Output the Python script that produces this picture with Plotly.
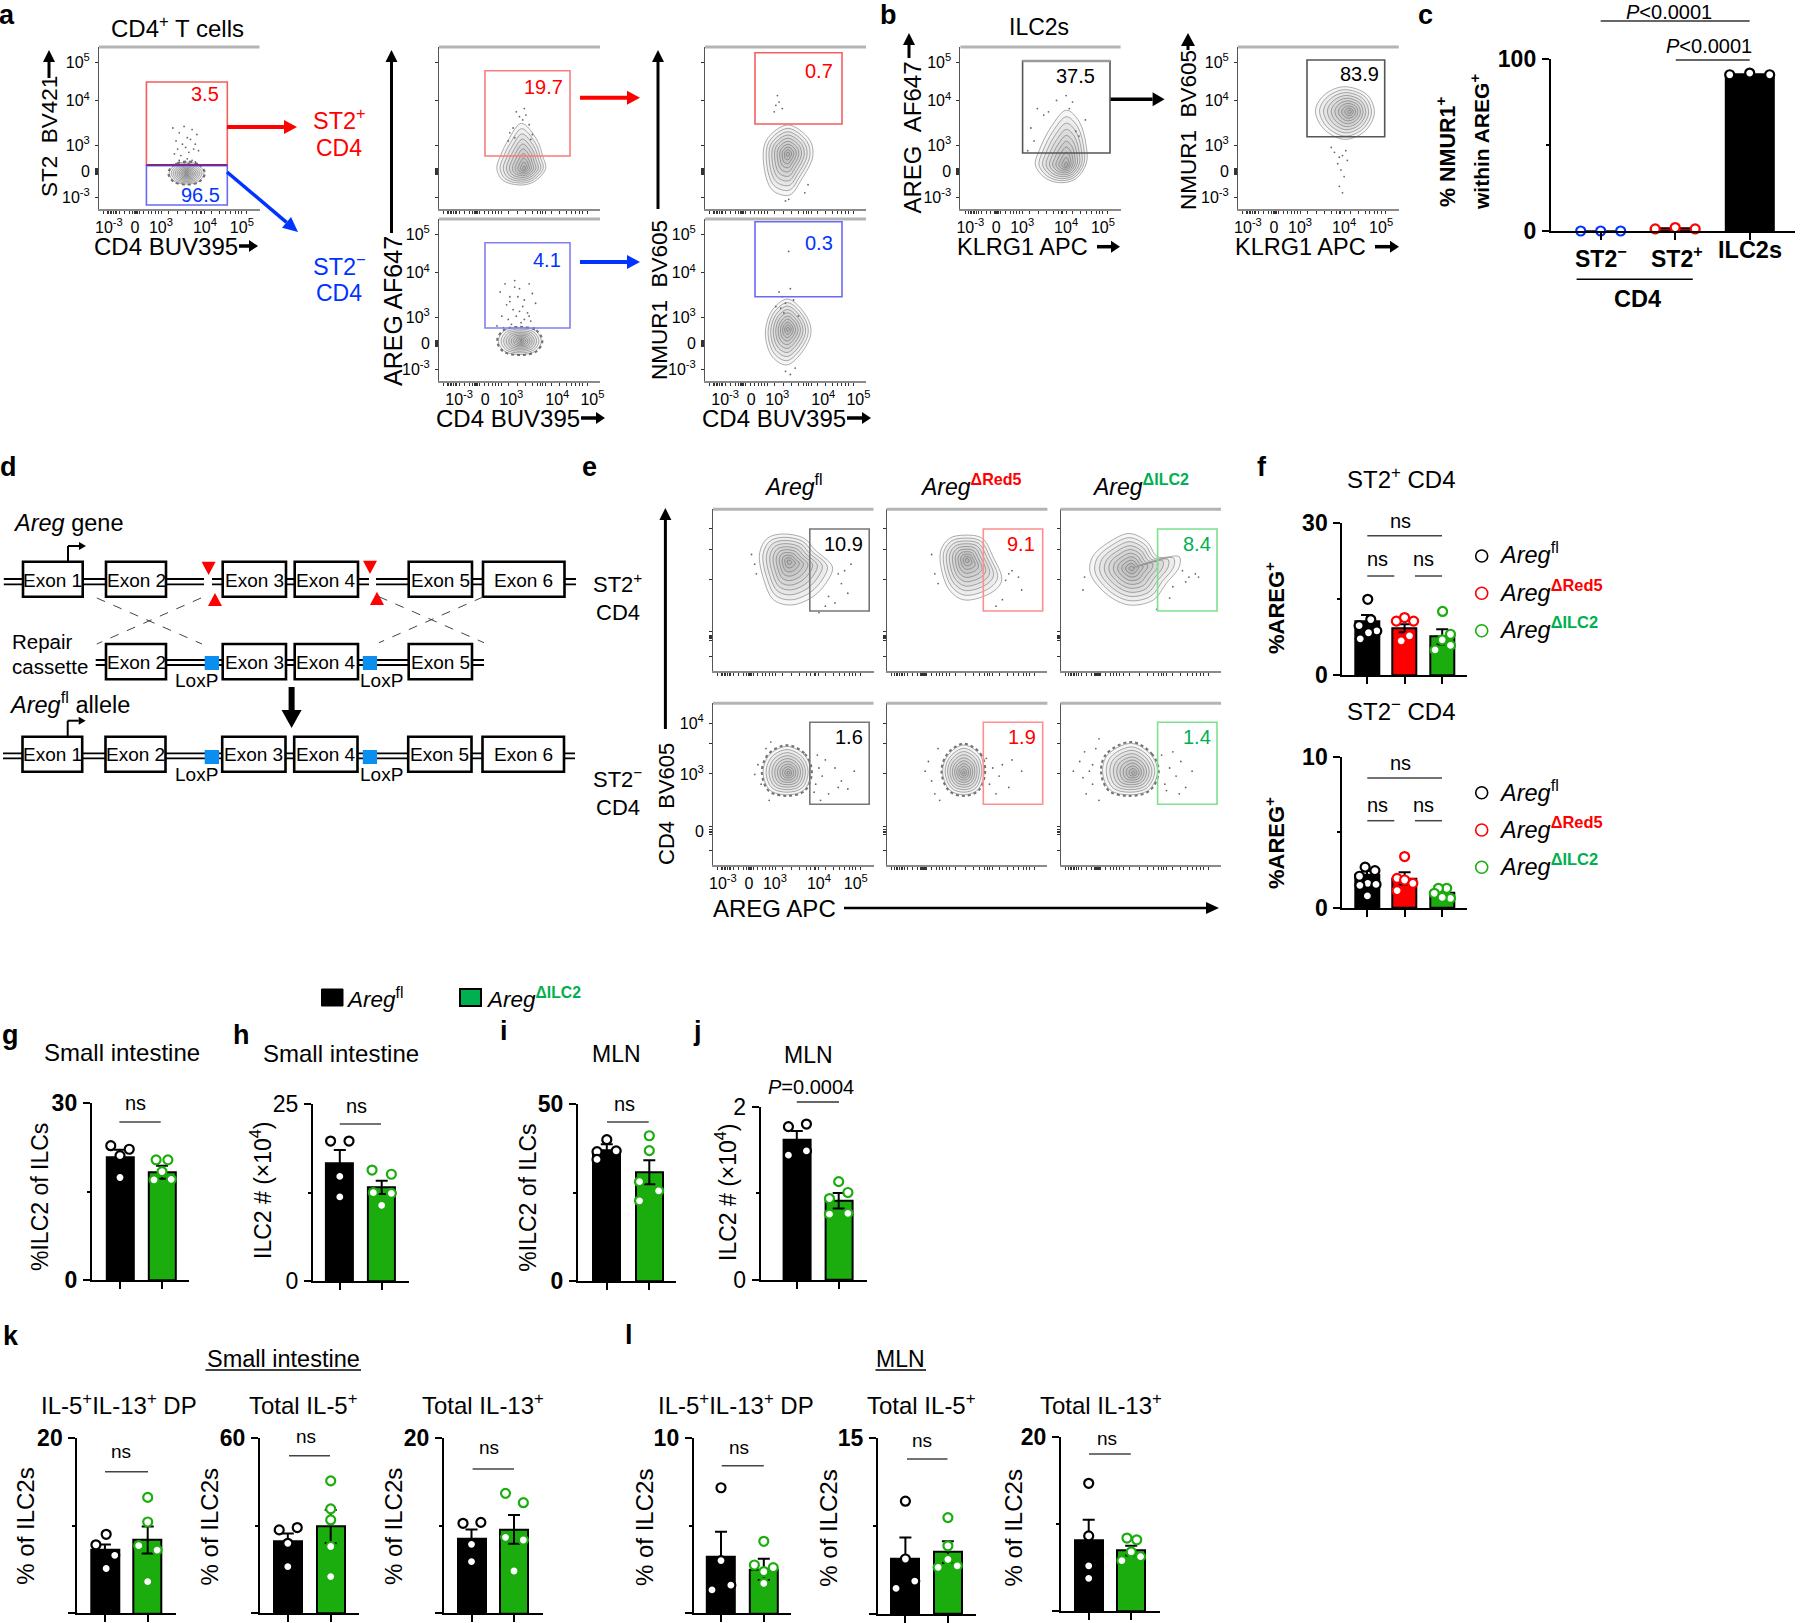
import plotly.graph_objects as go

W, H = 1800, 1623
FONT = "Liberation Sans"
RED, BLUE, GREEN, LGREEN = "#ff0000", "#0033ff", "#1bad0e", "#00b050"
NB = "\u00a0"

# ---------- flow-plot axes (display units 0-100) ----------
DECADES = ["10<sup>-3</sup>", "0", "10<sup>3</sup>", "10<sup>4</sup>", "10<sup>5</sup>"]
X_LABEL_POS = [6.2, 22.4, 38.6, 66, 89]
X_LABEL_POS_SHIFT = [12.5, 28.7, 44.9, 73.5, 95.3]
Y_LABEL_POS = [7.4, 23.1, 39.5, 66.8, 90.7]
E_Y_LABELS = ["0", "10<sup>3</sup>", "10<sup>4</sup>"]
E_Y_LABEL_POS = [20.6, 56.3, 87.8]
X_MARKS = [3, 5, 6, 7, 8, 9, 10, 11, 13, 16, 19, 21, 22, 22.5, 23, 23.5, 24, 25, 28, 31, 33, 35, 37, 39, 43, 49,
           54, 58, 61, 63, 64, 66, 70, 75, 79, 82, 85, 87, 89, 92]
Y_MARKS = [7, 7.4, 21, 22, 22.6, 23.1, 23.6, 24.2, 25, 39.5, 66.8, 90.7]
E_Y_MARKS = [9, 19, 20, 20.6, 21, 22, 24, 56.3, 75, 87.8]

# ---------- outermost contour of each flow plot, and its densest point ----------
A1_CX = [54.6, 62, 65.5, 62, 54.6, 47, 43.7, 47]
A1_CY = [29, 27, 22.2, 17, 15.4, 17, 22.2, 27]
A1_FOCUS = (54.6, 22)
A2_CX = [51.2, 60.9, 64.5, 66.3, 59.1, 50.2, 39.4, 35.9, 38.4, 43]
A2_CY = [52.9, 42.6, 32.3, 25.1, 16.9, 14.8, 17.9, 25.1, 33.3, 42.6]
A2_FOCUS = (53, 25)
A3_CX = [51.5, 65, 66.9, 59.7, 52.5, 41.8, 36.4, 38.2]
A3_CY = [51.9, 42.6, 32.3, 17.9, 8.6, 11.7, 28.2, 42.6]
A3_FOCUS = (51.5, 34)
A4_CX = [50, 60, 63.6, 60, 50, 40.5, 36.8, 40.5]
A4_CY = [33, 31, 24.7, 18.5, 16.4, 18.5, 24.7, 31]
A4_FOCUS = (51, 24.5)
A5_CX = [51.5, 63.2, 65.8, 59.7, 50.7, 41.8, 37.5, 41.8]
A5_CY = [50.6, 39.7, 29.4, 17.1, 9.9, 15, 29.4, 43.8]
A5_FOCUS = (51.5, 32)
B1_CX = [66.2, 74.2, 78.6, 78.6, 72.4, 63.2, 53.3, 46.8, 49.3, 56.7]
B1_CY = [61, 53.9, 38.5, 28.2, 18.9, 16.2, 18.9, 27.2, 36.4, 50.8]
B1_FOCUS = (66, 27)
B2_CX = [65.8, 80.4, 84.8, 78.5, 65.8, 53, 48.2, 53.7]
B2_CY = [75.5, 70.4, 59, 47.7, 43, 49.8, 61, 70.4]
B2_FOCUS = (69.5, 60)
E1_CX = [43.3, 56.8, 63.6, 74.4, 71.7, 62.2, 48.7, 37.9, 31.7, 29, 33.8]
E1_CY = [84.7, 82, 74.8, 64.4, 56.2, 45.8, 40.7, 43.8, 56.2, 72.7, 82]
E1_FOCUS = (47.4, 67.5)
E2_CX = [48.6, 59.5, 66.2, 71.6, 66.2, 48.6, 39.1, 33.8, 33.8, 39.1]
E2_CY = [84, 82, 70.6, 56.2, 49, 43.8, 50, 64.4, 74.8, 82]
E2_FOCUS = (50, 68.6)
E3_CX = [42.9, 53.8, 60.5, 74, 74, 65.9, 57.8, 42.9, 29.4, 18.6, 20, 30.8]
E3_CY = [85, 80, 70.6, 70.6, 64.4, 54.1, 43.8, 40.7, 46.9, 60.3, 70.6, 80]
E3_FOCUS = (44.3, 63.4)
E4_CX = [46, 56.8, 60.9, 56.8, 46, 35.2, 31.2, 35.2]
E4_CY = [73.3, 68.2, 57.8, 46.5, 43.4, 46.5, 57.8, 68.2]
E4_FOCUS = (47, 57)
E5_CX = [48, 58, 60.7, 56.7, 48, 39.1, 34.8, 38.3]
E5_CY = [74.2, 68.2, 57.8, 46.5, 43.4, 46.5, 57.8, 68.2]
E5_FOCUS = (48, 57)
E6_CX = [44.3, 56.4, 60.5, 55.1, 42.9, 30.8, 26.2, 29.4]
E6_CY = [75.2, 68.2, 57.8, 46.5, 43.4, 46.5, 57.8, 68.2]
E6_FOCUS = (45.5, 57)

# ---------- scattered events ----------
A1_X = [46, 50, 53, 55, 58, 61, 48, 52, 57, 60, 49, 54, 56, 59, 51, 47, 62, 55, 53, 58, 50, 56, 48, 60]
A1_Y = [50, 47, 51, 44, 49, 46, 42, 40, 43, 40, 37, 38, 35, 37, 33, 34, 36, 31, 29, 30, 30, 28, 28, 29]
A2_X = [48, 50, 52, 54, 46, 44, 56, 58, 47, 43, 57, 53]
A2_Y = [60, 57, 55, 58, 50, 47, 52, 46, 44, 42, 43, 62]
A3_X = [45, 46, 48, 44, 43, 64, 62, 50, 52]
A3_Y = [70, 66, 62, 64, 60, 15, 10, 5, 6]
A4_X = [38, 41, 44, 47, 50, 53, 56, 58, 60, 42, 46, 49, 52, 55, 39, 43, 48, 51, 57, 36, 40, 45, 54, 59, 44, 50, 56, 47, 53]
A4_Y = [55, 60, 52, 62, 57, 50, 60, 54, 48, 47, 44, 52, 46, 42, 40, 38, 40, 36, 37, 34, 33, 35, 33, 33, 49, 43, 40, 58, 38]
A5_X = [52, 53, 46, 48, 50, 47, 55, 44, 58, 49, 50, 53, 56]
A5_Y = [80, 57, 55, 52, 48, 45, 50, 46, 40, 42, 6, 4, 8]
B1_X = [48, 52, 44, 46, 42, 72, 74, 78, 55, 60, 66, 70, 68]
B1_Y = [62, 58, 50, 42, 36, 48, 45, 55, 60, 67, 70, 66, 62]
B2_X = [58, 60, 63, 65, 67, 62, 64, 66, 68, 63, 65]
B2_Y = [38, 35, 32, 33, 36, 28, 24, 20, 30, 14, 10]
E1_X = [24, 26, 27, 78, 80, 82, 84, 86, 76, 70, 72, 66]
E1_Y = [72, 66, 60, 60, 54, 62, 48, 66, 42, 40, 46, 36]
E2_X = [28, 30, 32, 74, 76, 78, 82, 84, 72, 68]
E2_Y = [72, 60, 54, 56, 60, 62, 58, 50, 44, 40]
E3_X = [76, 78, 80, 84, 86, 68, 70, 15, 14, 60]
E3_Y = [62, 55, 58, 60, 58, 45, 52, 58, 50, 38]
E4_X = [26, 28, 30, 33, 35, 36, 63, 64, 65, 66, 67, 68, 70, 76, 80, 84, 88, 72, 78]
E4_Y = [56, 62, 50, 72, 40, 76, 45, 50, 68, 60, 40, 55, 65, 60, 52, 47, 58, 44, 48]
E5_X = [24, 26, 28, 30, 32, 33, 62, 64, 66, 70, 72, 76, 78, 84, 68]
E5_Y = [58, 64, 52, 44, 72, 40, 66, 50, 60, 55, 62, 48, 65, 58, 44]
E6_X = [8, 12, 15, 18, 20, 22, 24, 16, 14, 20, 24, 63, 65, 68, 72, 75, 78, 82, 66, 70, 74]
E6_Y = [58, 64, 70, 58, 50, 72, 40, 44, 54, 62, 78, 68, 50, 60, 55, 64, 48, 58, 46, 70, 44]

# ---------- bar charts ----------
C_MEANS = [0, 1.4, 91.4]
C_PTS = [[0, 0, 0], [1.2, 2, 1.2], [91, 92, 91]]
C_OFF = [[-0.268, 0, 0.268], [-0.268, 0, 0.268], [-0.268, 0, 0.268]]

F1_MEANS = [10.6, 9.3, 7.6]
F1_ERR = [1.3, 0.8, 1.5]
F1_PTS = [[15, 11, 9.8, 8.75, 8.4, 7.2], [10.7, 11.4, 10.7, 7.8, 6.8], [12.6, 8.1, 7, 5.9, 5]]
F1_OFF = [[0.02, 0.1, -0.21, 0.26, 0.04, -0.18], [-0.22, 0, 0.24, 0.13, -0.09], [0.01, 0.22, 0, 0.22, -0.19]]
F2_MEANS = [2.2, 1.96, 1.0]
F2_ERR = [0.25, 0.4, 0.2]
F2_PTS = [[2.7, 2.47, 2.1, 1.63, 1.56, 1.5, 0.8], [3.4, 1.96, 1.85, 1.63, 1.15], [1.3, 1.3, 0.97, 0.64, 0.7]]
F2_OFF = [[-0.05, 0.21, -0.2, 0.02, 0.24, -0.19, 0.01], [0, -0.2, 0, 0.22, -0.2], [0.12, -0.1, -0.21, 0.22, 0]]

G_MEANS = [20.8, 18.3]
G_ERR = [1.3, 1.1]
G_PTS = [[22.8, 22.2, 21.1, 17.4], [20.4, 20.4, 18.4, 17, 17.1]]
G_OFF = [[-0.22, 0.22, 0, 0], [-0.14, 0.14, 0, -0.19, 0.22]]
H_MEANS = [16.65, 13.25]
H_ERR = [1.9, 0.95]
H_PTS = [[19.8, 19.8, 14.8, 11.9], [15.7, 15.1, 12.5, 12.4, 10.7]]
H_OFF = [[-0.22, 0.22, 0, 0], [-0.23, 0.23, -0.2, 0.23, 0]]
I_MEANS = [36.9, 30.75]
I_ERR = [1.8, 3.4]
I_PTS = [[40, 36.6, 36.8, 34.4], [41.1, 36.9, 28.1, 25.5, 22.7]]
I_OFF = [[0, -0.23, 0.22, -0.23], [0, 0, -0.23, 0.22, -0.23]]
J_MEANS = [1.62, 0.915]
J_ERR = [0.1, 0.09]
J_PTS = [[1.77, 1.8, 1.44, 1.49], [1.135, 1.01, 0.94, 0.76, 0.77]]
J_OFF = [[-0.2, 0.23, -0.2, 0.23], [0, 0.22, -0.22, -0.22, 0.22]]

K1_MEANS = [7.2, 8.35]
K1_ERR = [0.65, 1.55]
K1_PTS = [[9, 7.8, 6.6, 5.1], [13.2, 10.4, 7.7, 7.2, 3.6]]
K1_OFF = [[0.03, -0.21, 0.23, 0.03], [0, 0, -0.21, 0.22, 0]]
K2_MEANS = [24.6, 29.7]
K2_ERR = [2.8, 5.7]
K2_PTS = [[28.6, 29.4, 24, 16], [45.4, 35.8, 32, 22.9, 12.6]]
K2_OFF = [[-0.2, 0.22, 0, 0], [0, 0, 0, 0, 0]]
K3_MEANS = [8.54, 9.56]
K3_ERR = [1.0, 1.65]
K3_PTS = [[10.25, 10.36, 7.86, 5.88], [13.66, 12.6, 8.65, 8.35, 4.82]]
K3_OFF = [[-0.2, 0.22, 0, 0], [-0.2, 0.22, -0.2, 0.22, 0]]
L1_MEANS = [3.23, 2.5]
L1_ERR = [1.42, 0.6]
L1_PTS = [[7.15, 3, 1.6, 1.33], [4.1, 2.75, 2.6, 2.37, 1.7]]
L1_OFF = [[0, 0, 0.23, -0.21], [0, -0.22, 0.22, 0, 0]]
L2_MEANS = [4.73, 5.27]
L2_ERR = [1.77, 0.93]
L2_PTS = [[9.6, 4.68, 2.8, 2.18], [8.2, 5.8, 4.65, 3.97, 4.1]]
L2_OFF = [[0, 0, 0.22, -0.22], [0, 0, 0, -0.23, 0.22]]
L3_MEANS = [8.1, 6.95]
L3_ERR = [2.4, 0.55]
L3_PTS = [[14.7, 8.64, 5.2, 3.76], [8.4, 8.2, 6.8, 6.26, 5.8]]
L3_OFF = [[0, 0, 0, 0], [-0.1, 0.13, 0, 0.22, -0.22]]

EXONS_TOP = ["Exon 1", "Exon 2", "Exon 3", "Exon 4", "Exon 5", "Exon 6"]
EXONS_REPAIR = ["Exon 2", "Exon 3", "Exon 4", "Exon 5"]

# ---------- helpers ----------
fig = go.Figure()
shapes, annots, axes = [], [], {}
ax_n = [0]


def px(x):
    return x / W


def py(y):
    return 1 - y / H


def T(x, y, text, size=20, color="black", anchor="center", angle=0):
    annots.append(dict(x=px(x), y=py(y), xref="paper", yref="paper", text=text, showarrow=False,
                       xanchor=anchor, yanchor="middle", textangle=angle,
                       font=dict(family=FONT, size=size, color=color), borderpad=0, borderwidth=0))


def L(x0, y0, x1, y1, color="black", w=1.5, dash=None):
    shapes.append(dict(type="line", xref="paper", yref="paper", x0=px(x0), y0=py(y0), x1=px(x1), y1=py(y1),
                       line=dict(color=color, width=w, dash=dash or "solid")))


def R(x0, y0, x1, y1, line="black", w=1.5, fill=None):
    shapes.append(dict(type="rect", xref="paper", yref="paper", x0=px(x0), y0=py(y0), x1=px(x1), y1=py(y1),
                       line=dict(color=line, width=w), fillcolor=fill or "rgba(0,0,0,0)"))


def poly(points, color):
    path = "M " + " L ".join(f"{px(a):.5f} {py(b):.5f}" for a, b in points) + " Z"
    shapes.append(dict(type="path", xref="paper", yref="paper", path=path, fillcolor=color,
                       line=dict(color=color, width=0)))


def arrow(x0, y0, x1, y1, color="black", w=3.5, head=13, hw=7):
    dx, dy = x1 - x0, y1 - y0
    n = (dx * dx + dy * dy) ** 0.5
    ux, uy = dx / n, dy / n
    bx, by = x1 - ux * head, y1 - uy * head
    L(x0, y0, bx, by, color, w)
    poly([(x1, y1), (bx - uy * hw, by + ux * hw), (bx + uy * hw, by - ux * hw)], color)


def new_axes(l, t, r, b):
    ax_n[0] += 1
    n = ax_n[0]
    return n, dict(domain=[px(l), px(r)], anchor=f"y{n}"), dict(domain=[py(b), py(t)], anchor=f"x{n}")


def flow(l, t, r, b, cx, cy, focus, dots_x, dots_y, xlab=None, ylab=None, ylabvals=None, ymarks=Y_MARKS, halo=False,
         rings=10):
    n, xa, ya = new_axes(l, t, r, b)
    tf = dict(family=FONT, size=16, color="black")
    minor_x = dict(tickvals=X_MARKS, ticks="outside", ticklen=3, tickwidth=1, tickcolor="#333333")
    minor_y = dict(tickvals=ymarks, ticks="outside", ticklen=3, tickwidth=1.2, tickcolor="#333333")
    xa.update(range=[0, 100], showgrid=False, zeroline=False, showline=True, linecolor="#8a8a8a", linewidth=2,
              ticks="", minor=minor_x, tickmode="array", tickvals=xlab or [], ticktext=DECADES if xlab else [],
              tickfont=tf, ticklabelstandoff=3, tickangle=0, fixedrange=True)
    ya.update(range=[0, 100], showgrid=False, zeroline=False, showline=True, linecolor="#555555", linewidth=1,
              ticks="", minor=minor_y, tickmode="array", tickvals=ylabvals or [], ticktext=ylab or [],
              tickfont=tf, ticklabelstandoff=5, fixedrange=True)
    axes[f"xaxis{n}"] = xa
    axes[f"yaxis{n}"] = ya
    L(l, t, r, t, "#b4b4b4", 3)
    fx, fy = focus
    closed_x, closed_y = cx + cx[:1], cy + cy[:1]
    if halo:
        fig.add_trace(go.Scatter(x=[fx + (v - fx) * 1.05 for v in closed_x], y=[fy + (v - fy) * 1.05 for v in closed_y],
                                 mode="lines", xaxis=f"x{n}", yaxis=f"y{n}", showlegend=False, hoverinfo="skip",
                                 line=dict(shape="spline", color="rgba(40,40,40,0.65)", width=2, dash="dot")))
    for k in range(rings):
        s = (1 - k / rings) ** 1.2
        fig.add_trace(go.Scatter(x=[fx + (v - fx) * s for v in closed_x], y=[fy + (v - fy) * s for v in closed_y],
                                 mode="lines", fill="toself", fillcolor="rgba(110,110,110,0.06)", xaxis=f"x{n}",
                                 yaxis=f"y{n}", showlegend=False, hoverinfo="skip",
                                 line=dict(shape="spline", color="rgba(85,85,85,0.6)", width=0.8)))
    fig.add_trace(go.Scatter(x=dots_x, y=dots_y, mode="markers", xaxis=f"x{n}", yaxis=f"y{n}", showlegend=False,
                             marker=dict(size=1.8, color="#666666", line=dict(width=0))))


def bar_panel(l, t, r, b, c0, sp, ymax, means, err, pts, off, colors, edge=None, bold=True, barw=27, ysize=23,
              ylab0="0"):
    n, xa, ya = new_axes(l, t, r, b)
    wrap = (lambda s: f"<b>{s}</b>") if bold else (lambda s: s)
    xa.update(range=[(l - c0) / sp, (r - c0) / sp], showgrid=False, zeroline=False, showline=True, linecolor="black",
              linewidth=2, ticks="outside", ticklen=7, tickwidth=2, tickcolor="black", tickvals=list(range(len(means))),
              showticklabels=False, fixedrange=True)
    ya.update(range=[0, ymax], showgrid=False, zeroline=False, showline=True, linecolor="black", linewidth=2,
              ticks="outside", ticklen=7, tickwidth=2, tickcolor="black", tickvals=[0, ymax],
              ticktext=[wrap(ylab0), wrap(str(ymax))], tickfont=dict(family=FONT, size=ysize, color="black"),
              minor=dict(tickvals=[ymax / 2], ticks="outside", ticklen=3, tickwidth=2, tickcolor="black"),
              ticklabelstandoff=1, fixedrange=True)
    axes[f"xaxis{n}"] = xa
    axes[f"yaxis{n}"] = ya
    bar = dict(x=list(range(len(means))), y=means, width=barw / sp, xaxis=f"x{n}", yaxis=f"y{n}", showlegend=False,
               marker=dict(color=colors, line=dict(color="black", width=2)))
    if err:
        bar["error_y"] = dict(type="data", array=err, color="black", thickness=2, width=6)
    fig.add_trace(go.Bar(**bar))
    for i, (vals, offs) in enumerate(zip(pts, off)):
        fig.add_trace(go.Scatter(x=[i + o for o in offs], y=vals, mode="markers", xaxis=f"x{n}", yaxis=f"y{n}",
                                 showlegend=False, cliponaxis=False,
                                 marker=dict(size=9, color="white", line=dict(color=(edge or colors)[i], width=2.2))))


def gate(l, t, r, b, c):
    R(l, t, r, b, c, 1.6)


# ---------- panel a ----------
T(7, 15, "<b>a</b>", 27)
T(177, 27, "CD4<sup>+</sup> T cells", 24)
flow(99, 47, 259.5, 209, A1_CX, A1_CY, A1_FOCUS, A1_X, A1_Y, X_LABEL_POS, DECADES, Y_LABEL_POS, halo=True)
flow(439, 47, 600, 209, A2_CX, A2_CY, A2_FOCUS, A2_X, A2_Y)
flow(705, 47, 866, 209, A3_CX, A3_CY, A3_FOCUS, A3_X, A3_Y)
flow(439, 219, 600, 381, A4_CX, A4_CY, A4_FOCUS, A4_X, A4_Y, X_LABEL_POS_SHIFT, DECADES, Y_LABEL_POS, halo=True)
flow(705, 219, 866, 381, A5_CX, A5_CY, A5_FOCUS, A5_X, A5_Y, X_LABEL_POS_SHIFT, DECADES, Y_LABEL_POS)
gate(146.4, 82, 227.3, 165, "#f35f5f")
gate(146.4, 165.7, 227.3, 205, "#6a6af5")
L(146.4, 165, 227.3, 165, "#7a2a8a", 2)
T(205, 94, "3.5", 20, RED)
T(200, 195, "96.5", 20, BLUE)
arrow(227, 127, 297, 127, RED, 4, 13, 7)
arrow(227, 172, 298, 232, BLUE, 3.5, 15, 7)
T(339, 119, "ST2<sup>+</sup>", 23.5, RED)
T(339, 148, "CD4", 23, RED)
T(339, 265, "ST2<sup>−</sup>", 23.5, BLUE)
T(339, 293, "CD4", 23, BLUE)
gate(485, 70.7, 570, 156, "#f57e7e")
T(543, 87, "19.7", 20, RED)
gate(755, 52.7, 842, 124, "#f35f5f")
T(819, 70.7, "0.7", 20, RED)
gate(485, 242.7, 570, 328, "#8080f0")
T(547, 260, "4.1", 20, BLUE)
gate(755, 221.7, 842, 296.7, "#6a6af5")
T(819, 242.7, "0.3", 20, BLUE)
arrow(580, 97.7, 640, 97.7, RED, 4, 13, 7)
arrow(580, 262, 640, 262, BLUE, 4, 13, 7)
T(49, 137, f"ST2{NB}{NB}BV421", 22.5, angle=-90)
arrow(49, 78, 49, 50, "black", 3, 12, 6)
arrow(391.5, 233, 391.5, 50, "black", 3, 12, 6)
T(393, 311, "AREG AF647", 25, angle=-90)
arrow(658, 209, 658, 50, "black", 3, 12, 6)
T(659, 300, f"NMUR1{NB}{NB}BV605", 22.5, angle=-90)
for cx, ax0, ax1, yy in [(166, 239, 258, 246), (508, 581, 605, 418), (774, 847, 871, 418)]:
    T(cx, yy, "CD4 BUV395", 24)
    arrow(ax0, yy, ax1, yy, "black", 3.5, 9, 6)

# ---------- panel b ----------
T(888, 15, "<b>b</b>", 27)
T(1038.5, 27, "ILC2s", 23)
flow(960.4, 47, 1120.6, 209, B1_CX, B1_CY, B1_FOCUS, B1_X, B1_Y, X_LABEL_POS, DECADES, Y_LABEL_POS)
flow(1238, 47, 1398.8, 209, B2_CX, B2_CY, B2_FOCUS, B2_X, B2_Y, X_LABEL_POS, DECADES, Y_LABEL_POS)
gate(1022.6, 61, 1110, 153, "#555555")
L(1022.6, 61, 1110, 61, "#9a9a9a", 2.5)
T(1075, 76, "37.5", 20)
gate(1307, 60, 1384.7, 136.7, "#555555")
T(1359.5, 74, "83.9", 20)
arrow(1110.6, 99.3, 1164.6, 99.3, "black", 3.5, 12, 7)
T(912, 137.5, f"AREG{NB}{NB}AF647", 24, angle=-90)
arrow(909, 58, 909, 33, "black", 3, 12, 6)
T(1188, 130, f"NMUR1{NB}{NB}BV605", 22.5, angle=-90)
arrow(1188, 50, 1188, 33, "black", 3, 13, 7)
for cx, ax0, ax1 in [(1022.6, 1097, 1120), (1300, 1375, 1399)]:
    T(cx, 246.7, "KLRG1 APC", 23.5)
    arrow(ax0, 246.7, ax1, 246.7, "black", 3.5, 9, 6)

# ---------- panel c ----------
T(1425, 15, "<b>c</b>", 27)
bar_panel(1550.8, 59.3, 1795, 231, 1600.7, 74.5, 100, C_MEANS, None, C_PTS, C_OFF,
          ["#0033ff", RED, "black"], edge=[BLUE, RED, "black"], barw=48)
T(1446, 152, "<b>% NMUR1<sup>+</sup></b>", 21.5, angle=-90)
T(1480, 142, "<b>within AREG<sup>+</sup></b>", 21, angle=-90)
T(1600.7, 257, "<b>ST2<sup>−</sup></b>", 23)
T(1677, 257, "<b>ST2<sup>+</sup></b>", 23)
T(1749.7, 250, "<b>ILC2s</b>", 23.5)
L(1576.6, 279.3, 1692.8, 279.3, "black", 1.5)
T(1637, 298.5, "<b>CD4</b>", 23.5)
T(1669, 11.5, "<i>P</i><0.0001", 20)
L(1600.7, 21, 1749.7, 21, "#333333", 1.5)
T(1709, 46, "<i>P</i><0.0001", 20)
L(1675.8, 60, 1749.7, 60, "#333333", 1.5)

# ---------- panel d ----------
T(8, 467, "<b>d</b>", 27)
T(13, 522.7, "<i>Areg</i> gene", 23.5, anchor="left")
T(12, 641, "Repair", 20.5, anchor="left")
T(12, 666.7, "cassette", 20.5, anchor="left")
T(8.5, 702.7, "<i>Areg</i><sup>fl</sup> allele", 23.5, anchor="left")


def dna(x0, x1, y0, y1, gaps=()):
    segs, cur = [], x0
    for g0, g1 in gaps:
        segs.append((cur, g0))
        cur = g1
    segs.append((cur, x1))
    for a, b in segs:
        L(a, y0, b, y0, "black", 1.8)
        L(a, y1, b, y1, "black", 1.8)


dna(3.8, 576, 579, 584.3, gaps=[(204, 212), (369, 376)])
dna(95.7, 484, 660, 665)
dna(3, 575, 753.3, 758.3)
ROW1_BOXES = [(23, 82.7), (106, 166), (222.7, 286), (294.7, 358), (408.7, 472), (483, 564.5)]
ROW2_BOXES = [(106, 166), (222.7, 286), (294.7, 358), (408.7, 472)]
for lab, (a, b) in zip(EXONS_TOP, ROW1_BOXES):
    R(a, 561.7, b, 596.7, "black", 2.6, "white")
    T((a + b) / 2, 580, lab, 19)
for lab, (a, b) in zip(EXONS_REPAIR, ROW2_BOXES):
    R(a, 644, b, 679.3, "black", 2.6, "white")
    T((a + b) / 2, 662, lab, 19)
for lab, (a, b) in zip(EXONS_TOP, ROW1_BOXES):
    R(a - 0.5, 736.7, b - 0.5, 771.7, "black", 2.6, "white")
    T((a + b) / 2 - 0.5, 754, lab, 19)
for yy, y0, y1 in [(680.7, 656, 670), (774, 750, 764)]:
    R(204.7, y0, 219, y1, "#0a8ff0", 0, "#0a8ff0")
    R(362.8, y0, 377, y1, "#0a8ff0", 0, "#0a8ff0")
    T(196, yy, "LoxP", 19)
    T(381, yy, "LoxP", 19)
for x, y0, y1 in [(208.6, 561.7, 575), (370, 560.7, 574)]:
    poly([(x - 7, y0), (x + 7, y0), (x, y1)], RED)
for x, y0, y1 in [(215, 593, 606), (377, 591.7, 605)]:
    poly([(x, y0), (x - 7, y1), (x + 7, y1)], RED)
for a, b, c, d in [(96.8, 598, 202, 644), (201, 598, 96.8, 644), (378.9, 596.7, 484, 642.7), (483, 597, 379, 642.7)]:
    L(a, b, c, d, "#444444", 1, "dash")
for x, y0, y1 in [(68, 561.7, 546), (67.7, 736.7, 720.7)]:
    L(x, y0, x, y1, "black", 2)
    arrow(x, y1, x + 18, y1, "black", 2, 7, 4)
arrow(291.6, 687, 291.6, 728, "black", 6, 18, 10)

# ---------- panel e ----------
T(589, 467, "<b>e</b>", 27)
COLS = [(713, 873.5), (886.6, 1047.4), (1060.5, 1221)]
E_CONTOURS = [(E1_CX, E1_CY, E1_FOCUS), (E2_CX, E2_CY, E2_FOCUS), (E3_CX, E3_CY, E3_FOCUS),
              (E4_CX, E4_CY, E4_FOCUS), (E5_CX, E5_CY, E5_FOCUS), (E6_CX, E6_CY, E6_FOCUS)]
E_DOTS = [(E1_X, E1_Y), (E2_X, E2_Y), (E3_X, E3_Y), (E4_X, E4_Y), (E5_X, E5_Y), (E6_X, E6_Y)]
for idx in range(6):
    a, b = COLS[idx % 3]
    t, bt = (509.3, 670.7) if idx < 3 else (703.3, 865)
    labelled = idx == 3
    cxs, cys, foc = E_CONTOURS[idx]
    flow(a, t, b, bt, cxs, cys, foc, E_DOTS[idx][0], E_DOTS[idx][1], X_LABEL_POS if labelled else None,
         E_Y_LABELS if labelled else None, E_Y_LABEL_POS if labelled else None, ymarks=E_Y_MARKS, halo=idx >= 3)
for (a, b), c in zip([(809.8, 869.2), (983.3, 1042.7), (1157.6, 1217)], ["#777777", "#ff8f8f", "#7fe08f"]):
    gate(a, 529, b, 611, c)
    gate(a, 722.3, b, 804.3, c)
T(843, 544, "10.9", 20)
T(1021, 544, "9.1", 20, RED)
T(1196.6, 544, "8.4", 20, LGREEN)
T(848.8, 737.3, "1.6", 20)
T(1021.9, 737.3, "1.9", 20, RED)
T(1196.6, 737.3, "1.4", 20, LGREEN)
T(793, 485, "<i>Areg</i><sup>fl</sup>", 23)
T(971, 485, f'<i>Areg</i><sup><span style="color:{RED}"><b>ΔRed5</b></span></sup>', 23)
T(1140, 485, f'<i>Areg</i><sup><span style="color:{LGREEN}"><b>ΔILC2</b></span></sup>', 23)
T(617.7, 582.7, "ST2<sup>+</sup>", 22)
T(617.7, 612.3, "CD4", 22)
T(617.7, 778, "ST2<sup>−</sup>", 22)
T(617.7, 807, "CD4", 22)
arrow(665.4, 729, 665.4, 508, "black", 3, 12, 6)
T(666, 804, f"CD4{NB}{NB}BV605", 22, angle=-90)
T(774, 908, "AREG APC", 24)
arrow(844, 908, 1219, 908, "black", 2.5, 13, 6)

# ---------- panel f ----------
T(1262, 467, "<b>f</b>", 27)
FC = ["black", RED, GREEN]
bar_panel(1342.3, 523.3, 1466.7, 675.3, 1367, 37.6, 30, F1_MEANS, F1_ERR, F1_PTS, F1_OFF, FC, barw=24)
bar_panel(1342.3, 756.7, 1466.7, 908, 1367, 37.6, 10, F2_MEANS, F2_ERR, F2_PTS, F2_OFF, FC, barw=24)
T(1401.7, 478, "ST2<sup>+</sup> CD4", 24)
T(1401.7, 710, "ST2<sup>−</sup> CD4", 24)
T(1275, 608, "<b>%AREG<sup>+</sup></b>", 22, angle=-90)
T(1275, 843, "<b>%AREG<sup>+</sup></b>", 22, angle=-90)
for top, top_l, low, low_l in [(520.7, 535.7, 559, 576), (763, 778, 805, 820.7)]:
    T(1400, top, "ns", 20)
    L(1367.3, top_l, 1442, top_l, "#444444", 1.5)
    T(1377.7, low, "ns", 20)
    T(1423, low, "ns", 20)
    L(1367.3, low_l, 1394.3, low_l, "#444444", 1.5)
    L(1415, low_l, 1442, low_l, "#444444", 1.5)
LEG = [("<i>Areg</i><sup>fl</sup>", "black"),
       (f'<i>Areg</i><sup><span style="color:{RED}"><b>ΔRed5</b></span></sup>', RED),
       (f'<i>Areg</i><sup><span style="color:{LGREEN}"><b>ΔILC2</b></span></sup>', GREEN)]
for ys_c, ys_t in [((556, 593.3, 630.7), (553, 591, 628)), ((792.7, 830, 867.3), (790.7, 828, 865))]:
    for (lab, col), yc, yt in zip(LEG, ys_c, ys_t):
        shapes.append(dict(type="circle", xref="paper", yref="paper", x0=px(1475.7), x1=px(1487.7), y0=py(yc + 6),
                           y1=py(yc - 6), line=dict(color=col, width=1.6)))
        T(1499, yt, lab, 23.5, anchor="left")

# ---------- panels g-j ----------
T(10, 1035, "<b>g</b>", 27)
T(241, 1035, "<b>h</b>", 27)
T(504, 1031, "<b>i</b>", 27)
T(697.5, 1031, "<b>j</b>", 27)
R(321.5, 989, 343, 1006, "black", 1, "black")
T(346, 998, "<i>Areg</i><sup>fl</sup>", 22.5, anchor="left")
R(460, 989, 481, 1006, "black", 2, LGREEN)
T(486, 998, f'<i>Areg</i><sup><span style="color:{LGREEN}"><b>ΔILC2</b></span></sup>', 22.5, anchor="left")
GC = ["black", GREEN]
bar_panel(91.8, 1103.3, 189.4, 1280, 120, 42, 30, G_MEANS, G_ERR, G_PTS, G_OFF, GC)
bar_panel(312.9, 1104.3, 408.7, 1281, 339.8, 41.9, 25, H_MEANS, H_ERR, H_PTS, H_OFF, GC, bold=False)
bar_panel(578, 1104.3, 675.7, 1281, 606.8, 42.5, 50, I_MEANS, I_ERR, I_PTS, I_OFF, GC)
bar_panel(760.6, 1106.7, 866.8, 1280, 796.8, 41.9, 2, J_MEANS, J_ERR, J_PTS, J_OFF, GC, bold=False)
T(121.7, 1052.7, "Small intestine", 24)
T(341, 1053, "Small intestine", 24)
T(616, 1053.7, "MLN", 23)
T(808, 1055, "MLN", 23)
T(811, 1086.7, "<i>P</i>=0.0004", 20)
L(796.8, 1102, 839, 1102, "#333333", 1.5)
for x, yy, lx0, lx1, ly in [(135.5, 1102.7, 119.4, 160.7, 1122), (356.5, 1106, 339.8, 381, 1124),
                            (624, 1104.3, 607, 648.7, 1122)]:
    T(x, yy, "ns", 20)
    L(lx0, ly, lx1, ly, "#444444", 1.5)
T(40, 1197, "%ILC2 of ILCs", 23, angle=-90)
T(261, 1191, "ILC2 # (×10<sup>4</sup>)", 23, angle=-90)
T(528, 1197.7, "%ILC2 of ILCs", 23, angle=-90)
T(726, 1193, "ILC2 # (×10<sup>4</sup>)", 23, angle=-90)

# ---------- panels k, l ----------
T(10.7, 1336, "<b>k</b>", 27)
T(628.7, 1335, "<b>l</b>", 27)
T(283, 1359.3, "Small intestine", 23.5)
L(205.5, 1370, 361, 1370, "black", 1.5)
T(900.8, 1359.3, "MLN", 23)
L(875.5, 1370, 926, 1370, "black", 1.5)
for x, s in [(118.6, "IL-5<sup>+</sup>IL-13<sup>+</sup> DP"), (303.5, "Total IL-5<sup>+</sup>"),
             (483.4, "Total IL-13<sup>+</sup>"), (735.9, "IL-5<sup>+</sup>IL-13<sup>+</sup> DP"),
             (921.5, "Total IL-5<sup>+</sup>"), (1101.3, "Total IL-13<sup>+</sup>")]:
    T(x, 1404, s, 24)
bar_panel(77.3, 1437.7, 176, 1613.3, 104.9, 42.8, 20, K1_MEANS, K1_ERR, K1_PTS, K1_OFF, GC, barw=28)
bar_panel(260, 1438.3, 359, 1613.3, 287.8, 42.9, 60, K2_MEANS, K2_ERR, K2_PTS, K2_OFF, GC, barw=28)
bar_panel(444, 1437.7, 542.7, 1613.3, 471.5, 42.5, 20, K3_MEANS, K3_ERR, K3_PTS, K3_OFF, GC, barw=28)
bar_panel(693.8, 1437.7, 791, 1613.3, 721, 42.8, 10, L1_MEANS, L1_ERR, L1_PTS, L1_OFF, GC, barw=28)
bar_panel(878, 1437.7, 975.8, 1614, 905.4, 42.5, 15, L2_MEANS, L2_ERR, L2_PTS, L2_OFF, GC, barw=28)
bar_panel(1061, 1437.3, 1159.5, 1611, 1088.7, 42.5, 20, L3_MEANS, L3_ERR, L3_PTS, L3_OFF, GC, barw=28)
for x, yy, lx0, lx1, ly in [(121, 1451, 105, 148, 1471.7), (306, 1436, 289, 330, 1455.7), (489, 1447, 472.6, 514, 1469),
                            (739, 1447, 721.7, 763.8, 1465.7), (922, 1440, 907, 947.5, 1459),
                            (1107, 1438, 1089, 1130.8, 1454)]:
    T(x, yy, "ns", 19)
    L(lx0, ly, lx1, ly, "#444444", 1.5)
for x, yy in [(26, 1526.7), (209.7, 1526.7), (393.4, 1526.7), (644, 1528), (827.7, 1528), (1012.5, 1528)]:
    T(x, yy, "% of ILC2s", 24, angle=-90)

fig.update_layout(width=W, height=H, margin=dict(l=0, r=0, t=0, b=0, pad=0, autoexpand=False), paper_bgcolor="white",
                  plot_bgcolor="rgba(0,0,0,0)", showlegend=False, shapes=shapes, annotations=annots,
                  font=dict(family=FONT), bargap=0, **axes)
fig.write_html("out.html", config={"displayModeBar": False},
               post_script="document.body.style.margin='0';document.body.style.overflow='hidden';")
